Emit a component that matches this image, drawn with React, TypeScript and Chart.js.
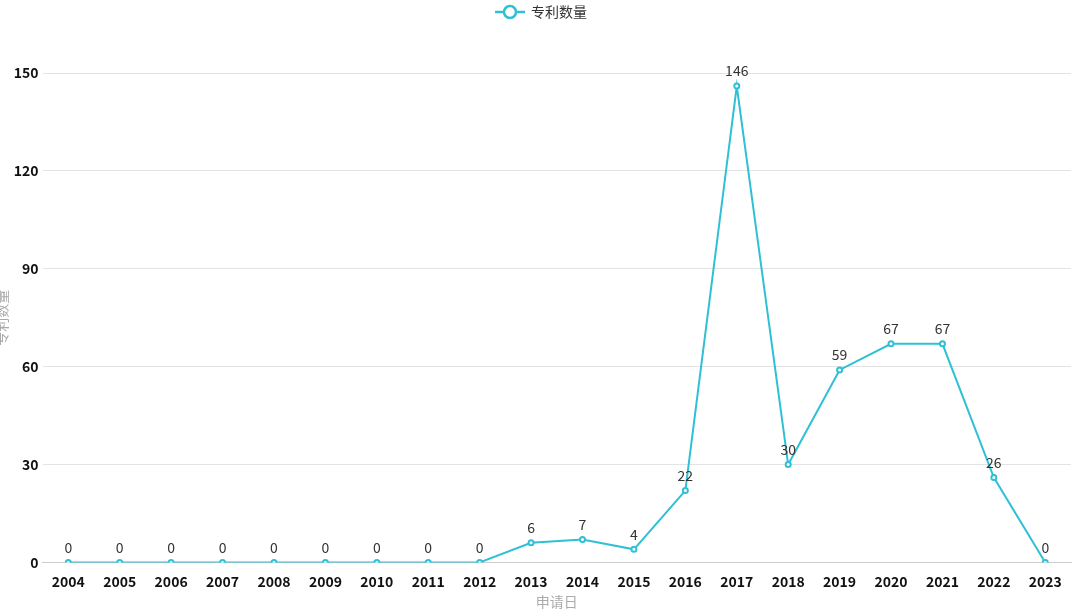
import React, { useEffect, useRef } from "react";
import { Chart, registerables } from "chart.js";
Chart.register(...registerables);

const years = ["2004","2005","2006","2007","2008","2009","2010","2011","2012","2013","2014","2015","2016","2017","2018","2019","2020","2021","2022","2023"];
const counts = [0,0,0,0,0,0,0,0,0,6,7,4,22,146,30,59,67,67,26,0];
const seriesName = "专利数量";
const color = "#2fc0d4";
const FONT = "'Noto Sans CJK SC', 'Open Sans', sans-serif";

const extras = {
  id: "extras",
  afterDatasetsDraw(chart: any) {
    const ctx = chart.ctx;
    const meta = chart.getDatasetMeta(0);
    ctx.save();
    ctx.font = `14px ${FONT}`;
    ctx.fillStyle = "#333";
    ctx.textAlign = "center";
    ctx.textBaseline = "bottom";
    meta.data.forEach((p: any, i: number) => {
      ctx.fillText(String(counts[i]), p.x, p.y - 8);
    });
    const cx = chart.width / 2 - 30;
    ctx.strokeStyle = color;
    ctx.lineWidth = 2.5;
    ctx.beginPath(); ctx.moveTo(cx - 15, 12); ctx.lineTo(cx + 15, 12); ctx.stroke();
    ctx.fillStyle = "#fff";
    ctx.beginPath(); ctx.arc(cx, 12, 6, 0, Math.PI * 2); ctx.fill(); ctx.stroke();
    ctx.fillStyle = "#333";
    ctx.textAlign = "left";
    ctx.textBaseline = "middle";
    ctx.fillText(seriesName, cx + 21, 12);
    ctx.restore();
  },
};

export default function App() {
  const ref = useRef<HTMLCanvasElement>(null);
  useEffect(() => {
    const chart = new Chart(ref.current!, {
      type: "line",
      data: {
        labels: years,
        datasets: [{
          label: seriesName, data: counts, borderColor: color, backgroundColor: "#fff",
          borderWidth: 2, pointRadius: 2.5, pointBorderWidth: 2, pointBackgroundColor: "#fff",
          pointBorderColor: color, tension: 0,
        }],
      },
      options: {
        animation: false, responsive: false,
        layout: { padding: { top: 73, right: 9, left: -7, bottom: 0 } },
        plugins: { legend: { display: false }, tooltip: { enabled: false } },
        scales: {
          x: {
            offset: true,
            grid: { display: false },
            border: { color: "#ccc" },
            ticks: { color: "#111", font: { family: FONT, size: 14, weight: "bold" }, maxRotation: 0, autoSkip: false },
            title: { display: true, text: "申请日", color: "#aaa", font: { family: FONT, size: 14 }, padding: { top: 0 } },
          },
          y: {
            min: 0, max: 150,
            ticks: { stepSize: 30, color: "#111", font: { family: FONT, size: 14, weight: "bold" }, padding: 4 },
            grid: { color: "#e3e3e3", drawTicks: false },
            border: { display: false },
            title: { display: true, text: "专利数量", color: "#aaa", font: { family: FONT, size: 14 }, padding: { top: 0, bottom: 0 } },
          },
        },
      },
      plugins: [extras],
    });
    return () => chart.destroy();
  }, []);
  return (
    <div style={{ position: "absolute", left: 0, top: 0, width: 1080, height: 614, background: "#fff" }}>
      <canvas ref={ref} width={1080} height={614} />
    </div>
  );
}
